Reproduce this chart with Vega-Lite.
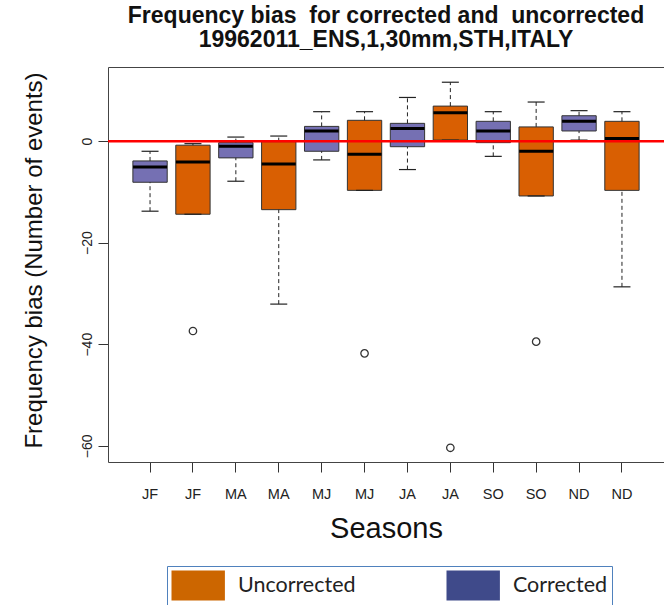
{
  "$schema": "https://vega.github.io/schema/vega-lite/v6.json",
  "width": 556,
  "height": 395,
  "autosize": {"type": "none"},
  "padding": {"left": 108, "top": 67, "right": 0, "bottom": 143},
  "background": "white",
  "config": {"view": {"stroke": null}, "font": "Liberation Sans"},
  "title": {
    "text": ["Frequency bias \u00a0for corrected and \u00a0uncorrected", "19962011_ENS,1,30mm,STH,ITALY"],
    "font": "Liberation Sans",
    "fontSize": 23,
    "fontWeight": "bold",
    "lineHeight": 24,
    "anchor": "middle",
    "offset": 15,
    "color": "#111111"
  },
  "datasets": {
    "stats": [
      {"key": "JF Corrected", "type": "Corrected", "lo": -13.8, "q1": -8.1, "med": -5.1, "q3": -3.9, "hi": -2.0},
      {"key": "JF Uncorrected", "type": "Uncorrected", "lo": -14.4, "q1": -14.4, "med": -4.1, "q3": -0.8, "hi": -0.5},
      {"key": "MA Corrected", "type": "Corrected", "lo": -7.9, "q1": -3.3, "med": -1.0, "q3": -0.3, "hi": 0.8},
      {"key": "MA Uncorrected", "type": "Uncorrected", "lo": -32.1, "q1": -13.5, "med": -4.5, "q3": -0.1, "hi": 1.0},
      {"key": "MJ Corrected", "type": "Corrected", "lo": -3.7, "q1": -2.0, "med": 2.0, "q3": 2.9, "hi": 5.8},
      {"key": "MJ Uncorrected", "type": "Uncorrected", "lo": -9.7, "q1": -9.7, "med": -2.6, "q3": 4.1, "hi": 5.8},
      {"key": "JA Corrected", "type": "Corrected", "lo": -5.6, "q1": -1.1, "med": 2.5, "q3": 3.5, "hi": 8.6},
      {"key": "JA Uncorrected", "type": "Uncorrected", "lo": 0.2, "q1": 0.2, "med": 5.6, "q3": 6.9, "hi": 11.6},
      {"key": "SO Corrected", "type": "Corrected", "lo": -3.0, "q1": -0.3, "med": 2.0, "q3": 3.9, "hi": 5.8},
      {"key": "SO Uncorrected", "type": "Uncorrected", "lo": -10.8, "q1": -10.8, "med": -2.0, "q3": 2.8, "hi": 7.7},
      {"key": "ND Corrected", "type": "Corrected", "lo": 0.2, "q1": 2.0, "med": 3.9, "q3": 5.0, "hi": 6.0},
      {"key": "ND Uncorrected", "type": "Uncorrected", "lo": -28.7, "q1": -9.7, "med": 0.5, "q3": 3.9, "hi": 5.8}
    ],
    "outliers": [
      {"key": "JF Uncorrected", "type": "Uncorrected", "value": -37.4},
      {"key": "MJ Uncorrected", "type": "Uncorrected", "value": -41.8},
      {"key": "JA Uncorrected", "type": "Uncorrected", "value": -60.4},
      {"key": "SO Uncorrected", "type": "Uncorrected", "value": -39.5}
    ],
    "zero": [{"bias": 0}]
  },
  "layer": [
    {
      "data": {"name": "stats"},
      "mark": {"type": "bar", "stroke": "#333333", "strokeWidth": 1},
      "encoding": {
        "x": {
          "field": "key", "type": "nominal",
          "scale": {"domain": ["JF Corrected", "JF Uncorrected", "MA Corrected", "MA Uncorrected", "MJ Corrected", "MJ Uncorrected", "JA Corrected", "JA Uncorrected", "SO Corrected", "SO Uncorrected", "ND Corrected", "ND Uncorrected"], "paddingInner": 0.2, "paddingOuter": 0.58},
          "axis": {"orient": "bottom", "labelExpr": "split(datum.value, ' ')[0]", "labelAngle": 0, "tickSize": 10, "labelPadding": 15.5, "labelFont": "Liberation Sans", "labelFontSize": 14.5, "labelColor": "#222222", "tickColor": "#333333", "domainColor": "#444444", "grid": false, "title": "Seasons", "titleFont": "Liberation Sans", "titleFontSize": 29, "titleFontWeight": "normal", "titleColor": "#111111", "titleX": 278, "titleY": 75, "titleAlign": "center", "titleBaseline": "alphabetic"}
        },
        "y": {
          "field": "q1", "type": "quantitative",
          "scale": {"domain": [-63.2, 14.6], "nice": false, "zero": false},
          "axis": {"orient": "left", "values": [0, -20, -40, -60], "labelAngle": -90, "labelAlign": "center", "labelBaseline": "alphabetic", "labelPadding": 7, "tickSize": 10, "labelFont": "Liberation Sans", "labelFontSize": 14, "labelColor": "#222222", "tickColor": "#333333", "domainColor": "#444444", "grid": false, "title": "Frequency bias (Number of events)", "titleFont": "Liberation Sans", "titleFontSize": 24, "titleFontWeight": "normal", "titleColor": "#111111", "titleAngle": -90, "titleX": -67, "titleY": 193, "titleAlign": "center", "titleBaseline": "alphabetic"}
        },
        "y2": {"field": "q3"},
        "fill": {"field": "type", "type": "nominal", "scale": {"domain": ["Corrected", "Uncorrected"], "range": ["#7570B3", "#D95F02"]}, "legend": null}
      }
    },
    {
      "data": {"name": "stats"},
      "mark": {"type": "rule", "strokeDash": [4, 3], "color": "#222222", "strokeWidth": 1},
      "encoding": {
        "x": {"field": "key", "type": "nominal", "axis": null},
        "y": {"field": "lo", "type": "quantitative"},
        "y2": {"field": "q1"}
      }
    },
    {
      "data": {"name": "stats"},
      "mark": {"type": "rule", "strokeDash": [4, 3], "color": "#222222", "strokeWidth": 1},
      "encoding": {
        "x": {"field": "key", "type": "nominal", "axis": null},
        "y": {"field": "q3", "type": "quantitative"},
        "y2": {"field": "hi"}
      }
    },
    {
      "data": {"name": "stats"},
      "mark": {"type": "tick", "size": 17, "thickness": 1.2, "color": "#222222", "opacity": 1},
      "encoding": {
        "x": {"field": "key", "type": "nominal", "axis": null},
        "y": {"field": "lo", "type": "quantitative"}
      }
    },
    {
      "data": {"name": "stats"},
      "mark": {"type": "tick", "size": 17, "thickness": 1.2, "color": "#222222", "opacity": 1},
      "encoding": {
        "x": {"field": "key", "type": "nominal", "axis": null},
        "y": {"field": "hi", "type": "quantitative"}
      }
    },
    {
      "data": {"name": "stats"},
      "mark": {"type": "tick", "size": 34, "thickness": 3, "color": "#000000", "opacity": 1},
      "encoding": {
        "x": {"field": "key", "type": "nominal", "axis": null},
        "y": {"field": "med", "type": "quantitative"}
      }
    },
    {
      "data": {"name": "outliers"},
      "mark": {"type": "point", "shape": "circle", "filled": false, "size": 55, "stroke": "#333333", "strokeWidth": 1.3, "opacity": 1},
      "encoding": {
        "x": {"field": "key", "type": "nominal", "axis": null},
        "y": {"field": "value", "type": "quantitative"}
      }
    },
    {
      "data": {"name": "zero"},
      "mark": {"type": "rule", "color": "#FF0000", "strokeWidth": 2.5},
      "encoding": {"y": {"field": "bias", "type": "quantitative"}}
    },
    {
      "data": {"name": "stats"},
      "transform": [{"filter": "false"}],
      "mark": {"type": "point", "filled": true},
      "encoding": {
        "x": {"field": "key", "type": "nominal", "axis": {"orient": "top", "labels": false, "ticks": false, "title": null, "domainColor": "#444444", "grid": false}},
        "y": {"field": "med", "type": "quantitative"},
        "color": {
          "field": "type", "type": "nominal",
          "scale": {"domain": ["Uncorrected", "Corrected"], "range": ["#CC6600", "#3F4A8A"]},
          "legend": {"title": null, "orient": "none", "legendX": 59, "legendY": 499, "direction": "horizontal", "symbolType": "M-1,-1H2.56V1H-1Z", "symbolSize": 900, "symbolOpacity": 1, "symbolStrokeWidth": 0, "labelFont": "Lato", "labelFontSize": 21.5, "labelColor": "#222222", "labelOffset": 36.4, "columnPadding": 90, "padding": 4.5, "strokeColor": "#4F81BD", "labelLimit": 300}
        }
      }
    }
  ],
  "resolve": {"axis": {"x": "independent"}}
}
